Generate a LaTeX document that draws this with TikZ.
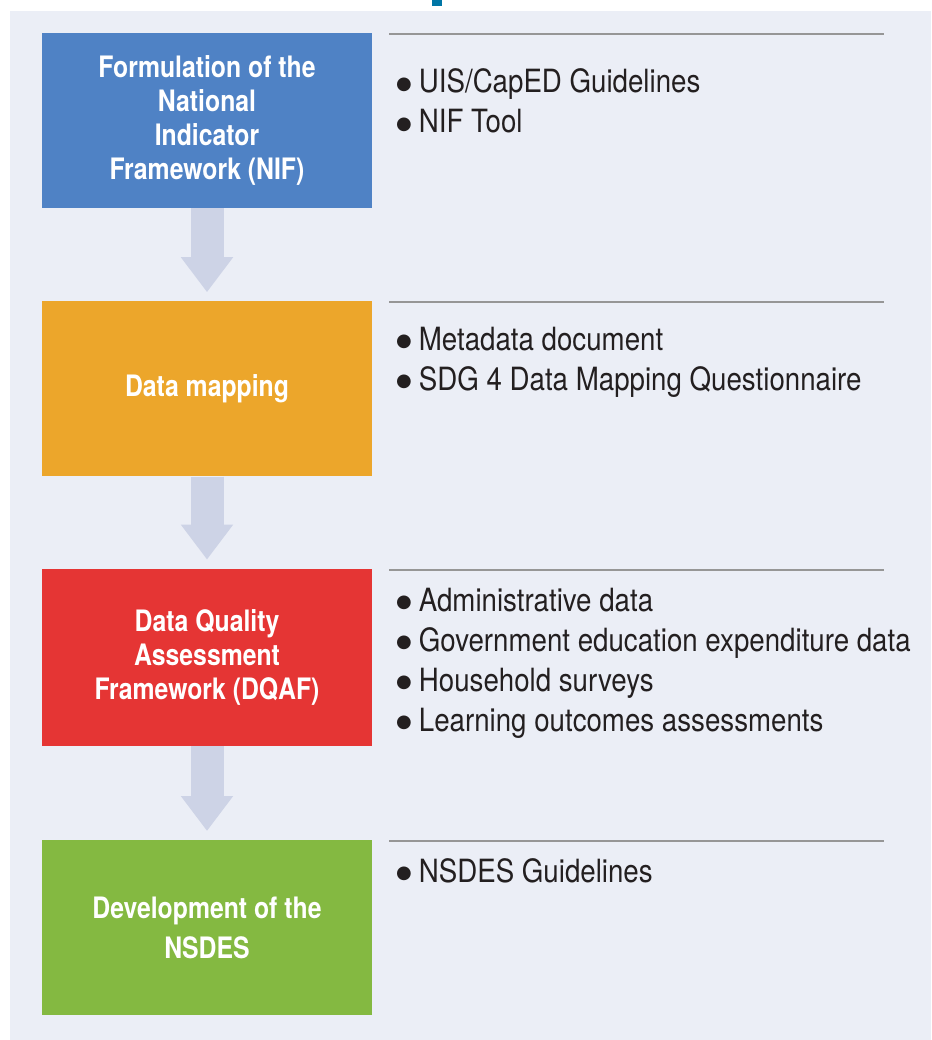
\documentclass[tikz,border=0pt]{standalone}
\usepackage{fontspec}
\setmainfont{TeX Gyre Heros}[FakeStretch=0.84]
\newfontfamily\itemfont{TeX Gyre Heros}[FakeStretch=0.865]
\newfontfamily\bulletfont{DejaVu Sans}
\usepackage{tikz}
\usetikzlibrary{positioning,arrows.meta}
\usepackage{xcolor}
\definecolor{panelbg}{RGB}{235,238,246}
\definecolor{nifblue}{RGB}{79,130,197}
\definecolor{maporange}{RGB}{236,166,43}
\definecolor{dqafred}{RGB}{229,53,52}
\definecolor{nsdesgreen}{RGB}{132,185,65}
\definecolor{flowgray}{RGB}{205,211,230}
\definecolor{rulegray}{RGB}{150,150,150}
\definecolor{itemtext}{RGB}{35,31,32}
\definecolor{tickblue}{RGB}{0,118,166}
\newcommand{\itembullet}{\raisebox{3.5pt}[0pt][0pt]{\bulletfont\fontsize{18}{18}\selectfont ●}\hspace{7pt}}

\begin{document}
\begin{tikzpicture}[x=1pt, y=1pt,
  stage/.style = {rectangle, minimum width=330pt, minimum height=175pt, inner sep=0pt, align=center, text=white, font=\fontsize{29.5}{34}\selectfont\bfseries},
  flow/.style = {draw=flowgray, line width=33pt, -{Triangle[width=50pt,length=35pt]}, shorten >=9pt},
  rule/.style = {draw=rulegray, line width=2pt},
  items/.style = {anchor=base west, align=left, inner sep=0pt, text=itemtext, font=\itemfont\fontsize{32}{40}\selectfont}]
	\useasboundingbox (0,0) rectangle (931,-1040);
	\fill[panelbg] (10,-11) rectangle (931,-1040);
	\fill[tickblue] (432,0) rectangle (442,-6);
	\node[stage, fill=nifblue] (nif) at (207,-120.5) {Formulation of the\\National\\Indicator\\Framework (NIF)};
	\node[stage, fill=maporange] (map) [below=93pt of nif] {Data mapping};
	\node[stage, fill=dqafred, minimum height=177pt] (dqaf) [below=92pt of map] {Data Quality\\Assessment\\Framework (DQAF)};
	\node[stage, fill=nsdesgreen, font=\fontsize{29.5}{39.5}\selectfont\bfseries] (nsdes) [below=94pt of dqaf] {Development of the\\NSDES};
	\draw[flow] (nif) -- (map);
	\draw[flow] (map) -- (dqaf);
	\draw[flow] (dqaf) -- (nsdes);
	\draw[rule] ([xshift=17pt,yshift=-1pt]nif.north east) -- ++(495,0);
	\draw[rule] ([xshift=17pt,yshift=-1pt]map.north east) -- ++(495,0);
	\draw[rule] ([xshift=17pt,yshift=-1pt]dqaf.north east) -- ++(495,0);
	\draw[rule] ([xshift=17pt,yshift=-1pt]nsdes.north east) -- ++(495,0);
	\node[items] (niflist) at (396,-133) {\itembullet UIS/CapED Guidelines\\\itembullet NIF Tool};
	\node[items] (maplist) at (396,-390) {\itembullet Metadata document\\\itembullet SDG 4 Data Mapping Questionnaire};
	\node[items] (dqaflist) at (396,-731) {\itembullet Administrative data\\\itembullet Government education expenditure data\\\itembullet Household surveys\\\itembullet Learning outcomes assessments};
	\node[items] (nsdeslist) at (396,-882) {\itembullet NSDES Guidelines};
\end{tikzpicture}
\end{document}
